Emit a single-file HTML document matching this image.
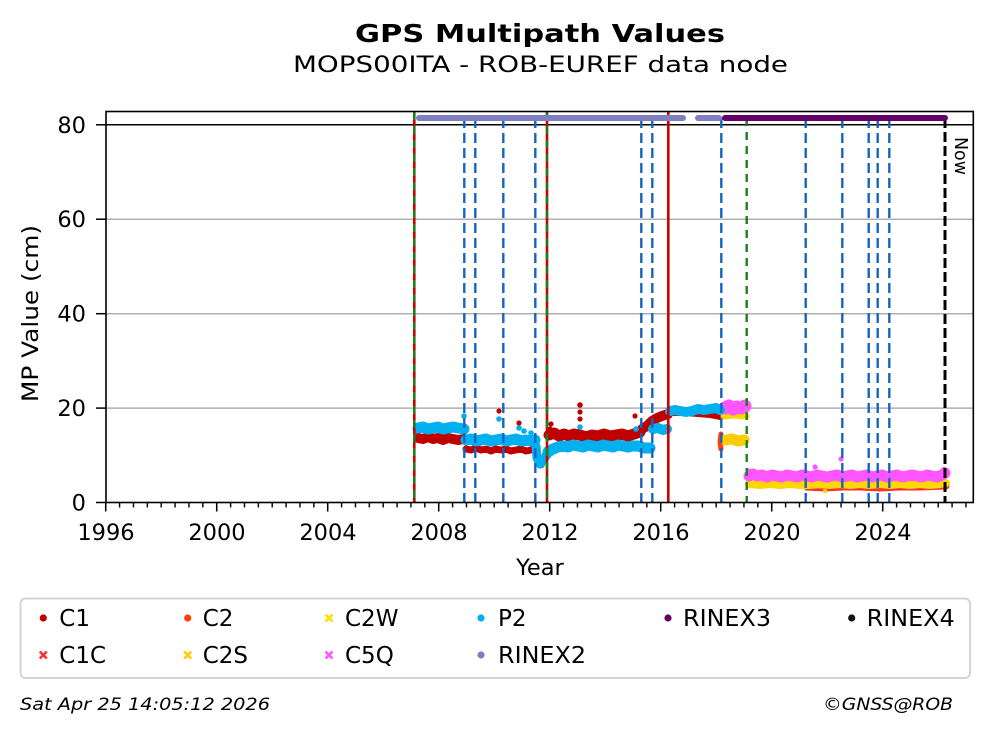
<!DOCTYPE html>
<html>
<head>
<meta charset="utf-8">
<style>
html,body{margin:0;padding:0;background:#fff;}
svg{display:block;}
text{font-family:"DejaVu Sans","Liberation Sans",sans-serif;fill:#000;}
</style>
</head>
<body>
<svg width="992" height="734" viewBox="0 0 992 734" xmlns="http://www.w3.org/2000/svg">
<defs>
<pattern id="mt" x="105" y="0" width="13.875" height="734" patternUnits="userSpaceOnUse">
<rect x="0" y="0" width="1.4" height="734" fill="#000"/>
</pattern>
<clipPath id="ax"><rect x="106" y="111" width="867" height="392"/></clipPath>
</defs>

<!-- Titles -->
<text x="540" y="42" text-anchor="middle" font-size="24.5" font-weight="bold" textLength="370" lengthAdjust="spacingAndGlyphs">GPS Multipath Values</text>
<text x="540.5" y="72" text-anchor="middle" font-size="22.5" textLength="495" lengthAdjust="spacingAndGlyphs">MOPS00ITA - ROB-EUREF data node</text>

<!-- grid lines -->
<g stroke="#b0b0b0" stroke-width="1.5">
<line x1="106" y1="408.1" x2="973" y2="408.1"/>
<line x1="106" y1="313.7" x2="973" y2="313.7"/>
<line x1="106" y1="219.2" x2="973" y2="219.2"/>
</g>
<line x1="106" y1="124.8" x2="973" y2="124.8" stroke="#000" stroke-width="1.5"/>

<g clip-path="url(#ax)" fill="none" stroke-linejoin="round" stroke-linecap="round">
<!-- C1 -->
<g stroke="#c00000">
<polyline stroke-width="10" points="418,438 423,439 428,437 433,439 438,438 443,440 448,438 453,439 458,440 464,439"/>
<polyline stroke-width="7" points="466,449 471,450 476,448 481,450 486,449 491,451 496,449 501,450 506,449 511,451 516,450 521,449 526,451 531,450 535,449"/>
<polyline stroke-width="7" points="536,452 538,461 541,465 544,459 547,450"/>
<polyline stroke-width="11" points="549,435 554,433 559,436 564,434 569,436 574,434 580,435 586,437 592,435 598,436 604,434 610,436 616,435 622,434 628,436 634,434 640,432"/>
<polyline stroke-width="10" points="642,429 647,426 652,421 657,418 662,416 668,414"/>
<polyline stroke-width="8" points="669,412 686,412 698,413 710,414 720,416"/>
</g>
<g fill="#c00000" stroke="none">
<circle cx="499" cy="411" r="2.6"/><circle cx="519" cy="423" r="2.6"/>
<circle cx="551" cy="424" r="2.6"/><circle cx="550" cy="429" r="2.6"/>
<circle cx="580" cy="405" r="2.8"/><circle cx="580" cy="412" r="2.6"/><circle cx="580" cy="419" r="2.6"/>
<circle cx="635" cy="416" r="2.6"/>
</g>
<!-- C1C -->
<polyline stroke="#ff3030" stroke-width="3" points="806,489 825,490 843,489"/>
<polyline stroke="#ff3030" stroke-width="7" points="843,487 860,487 880,488 900,487 920,487 946,486"/>
<!-- C2 -->
<polyline stroke="#ff4000" stroke-width="5" points="721,434 720,442 721,449"/>
<!-- C2S -->
<polyline stroke="#ffcc00" stroke-width="11" points="726,440 732,439 738,441 744,440"/>
<!-- C2W -->
<polyline stroke="#ffd700" stroke-width="7" points="724,416 735,415 746,416"/>
<polyline stroke="#ffd700" stroke-width="8" points="749,484 760,485 770,484 780,485 790,484 800,485 810,485 820,484 830,485 840,484 850,485 860,484 870,485 880,484 890,485 900,484 910,485 920,484 930,485 940,484 946,483"/>
<circle cx="825" cy="491" r="2.2" fill="#ffd700" stroke="none"/>
<!-- C5Q -->
<polyline stroke="#ff55ff" stroke-width="13" points="725,408 729,406 733,409 737,407 741,408 745,406"/>
<polyline stroke="#ff55ff" stroke-width="11" points="749,476 753,474 757,476 762,475 767,477 772,475 777,476 782,477 787,475 792,476 797,477 802,475 807,476 812,477 817,475 822,476 827,477 832,476 837,475 842,477 847,476 852,475 857,477 862,476 867,475 872,477 877,476 882,475 887,477 892,476 897,475 902,477 907,476 912,475 917,476 922,477 927,475 932,476 937,477 942,475 945,473"/>
<g fill="#ff55ff" stroke="none">
<circle cx="815" cy="467" r="2.6"/><circle cx="841" cy="459" r="2.6"/><circle cx="944" cy="470" r="3.2"/><circle cx="749" cy="471" r="2.6"/>
</g>
<!-- P2 -->
<g stroke="#00b0f0">
<polyline stroke-width="11" points="418,428 423,427 428,429 433,428 438,427 443,429 448,428 453,427 458,428 464,429"/>
<polyline stroke-width="11" points="466,440 471,439 476,441 481,440 486,439 491,441 496,440 501,439 506,441 511,440 516,439 521,441 526,440 531,441 535,440"/>
<polyline stroke-width="9" points="536,446 537,458 540,464 543,460 547,455"/>
<polyline stroke-width="11" points="548,452 553,449 558,447 563,446 568,447 573,445 578,446 583,447 588,445 593,446 598,447 603,445 608,446 613,447 618,445 623,446 628,447 633,446 638,446 644,448 650,448"/>
<polyline stroke-width="10" points="653,429 658,428 663,430 667,429"/>
<polyline stroke-width="10" points="670,411 675,410 680,411 686,412 692,411 698,409 704,410 710,409 716,408 720,410"/>
</g>
<g fill="#00b0f0" stroke="none">
<circle cx="464" cy="416" r="2.8"/><circle cx="499" cy="419" r="2.8"/><circle cx="519" cy="428" r="2.8"/>
<circle cx="524" cy="431" r="2.8"/><circle cx="531" cy="433" r="2.8"/><circle cx="580" cy="427" r="2.8"/>
<circle cx="636" cy="429" r="2.8"/>
</g>
</g>

<!-- vertical event lines -->
<g stroke="#1565c0" stroke-width="2.4" stroke-dasharray="10 5">
<line x1="464.3" y1="118" x2="464.3" y2="502"/>
<line x1="475.3" y1="118" x2="475.3" y2="502"/>
<line x1="503.3" y1="118" x2="503.3" y2="502"/>
<line x1="535.3" y1="118" x2="535.3" y2="502"/>
<line x1="641.3" y1="118" x2="641.3" y2="502"/>
<line x1="652.3" y1="118" x2="652.3" y2="502"/>
<line x1="721.3" y1="118" x2="721.3" y2="502"/>
<line x1="805.7" y1="118" x2="805.7" y2="502"/>
<line x1="842.3" y1="118" x2="842.3" y2="502"/>
<line x1="868.7" y1="118" x2="868.7" y2="502"/>
<line x1="877.7" y1="118" x2="877.7" y2="502"/>
<line x1="889.3" y1="118" x2="889.3" y2="502"/>
</g>
<g stroke="#cc0000" stroke-width="2.6">
<line x1="414.3" y1="112" x2="414.3" y2="502"/>
<line x1="547" y1="112" x2="547" y2="502"/>
<line x1="668.3" y1="112" x2="668.3" y2="502"/>
</g>
<g stroke="#1a801a" stroke-width="2.4" stroke-dasharray="8 6">
<line x1="414.3" y1="112" x2="414.3" y2="502"/>
<line x1="547" y1="112" x2="547" y2="502"/>
<line x1="746.7" y1="118" x2="746.7" y2="502"/>
</g>
<line x1="945" y1="118" x2="945" y2="502" stroke="#000" stroke-width="3" stroke-dasharray="10 4"/>

<!-- RINEX bars -->
<g stroke-width="6" stroke-linecap="round">
<line x1="419" y1="118" x2="683" y2="118" stroke="#7f7fbf"/>
<line x1="698" y1="118" x2="719" y2="118" stroke="#7f7fbf"/>
<line x1="725" y1="118" x2="945" y2="118" stroke="#660066"/>
</g>

<text transform="translate(955,137) rotate(90)" font-size="18" textLength="38" lengthAdjust="spacingAndGlyphs">Now</text>

<!-- axes frame -->
<rect x="106" y="111.5" width="867.3" height="391" fill="none" stroke="#000" stroke-width="1.6"/>

<!-- y ticks -->
<g stroke="#000" stroke-width="1.5">
<line x1="96" y1="502.5" x2="106" y2="502.5"/>
<line x1="96" y1="408.1" x2="106" y2="408.1"/>
<line x1="96" y1="313.7" x2="106" y2="313.7"/>
<line x1="96" y1="219.2" x2="106" y2="219.2"/>
<line x1="96" y1="124.8" x2="106" y2="124.8"/>
</g>
<g font-size="22.5" text-anchor="end">
<text x="86" y="510.5">0</text>
<text x="86" y="416.1">20</text>
<text x="86" y="321.7">40</text>
<text x="86" y="227.2">60</text>
<text x="86" y="132.8">80</text>
</g>

<!-- x ticks -->
<rect x="104" y="502.5" width="864" height="5" fill="url(#mt)"/>
<g stroke="#000" stroke-width="1.5">
<line x1="105.7" y1="502.5" x2="105.7" y2="511.5"/>
<line x1="216.7" y1="502.5" x2="216.7" y2="511.5"/>
<line x1="327.7" y1="502.5" x2="327.7" y2="511.5"/>
<line x1="438.7" y1="502.5" x2="438.7" y2="511.5"/>
<line x1="549.7" y1="502.5" x2="549.7" y2="511.5"/>
<line x1="660.7" y1="502.5" x2="660.7" y2="511.5"/>
<line x1="771.7" y1="502.5" x2="771.7" y2="511.5"/>
<line x1="882.7" y1="502.5" x2="882.7" y2="511.5"/>
</g>
<g font-size="22.5" text-anchor="middle">
<text x="106" y="540">1996</text>
<text x="217" y="540">2000</text>
<text x="328" y="540">2004</text>
<text x="439" y="540">2008</text>
<text x="550" y="540">2012</text>
<text x="661" y="540">2016</text>
<text x="772" y="540">2020</text>
<text x="883" y="540">2024</text>
</g>

<text x="540" y="575" font-size="22.5" text-anchor="middle">Year</text>
<text transform="translate(38,313.5) rotate(-90)" font-size="22.5" text-anchor="middle" textLength="177" lengthAdjust="spacingAndGlyphs">MP Value (cm)</text>

<!-- legend -->
<rect x="20.5" y="598.5" width="949.5" height="79.5" rx="5" fill="#fff" stroke="#d4d4d4" stroke-width="2"/>
<circle cx="43.3" cy="618" r="3.6" fill="#c00000"/>
<circle cx="187.7" cy="618" r="3.6" fill="#ff4000"/>
<g stroke="#ffe000" stroke-width="2.6"><line x1="325.5" y1="614.5" x2="332.5" y2="621.5"/><line x1="332.5" y1="614.5" x2="325.5" y2="621.5"/></g>
<circle cx="481" cy="618" r="3.6" fill="#00b0f0"/>
<circle cx="668" cy="618" r="3.6" fill="#660066"/>
<circle cx="851.7" cy="618" r="3.6" fill="#1a0a1a"/>
<g stroke="#ff3030" stroke-width="2.6"><line x1="39.8" y1="651.5" x2="46.8" y2="658.5"/><line x1="46.8" y1="651.5" x2="39.8" y2="658.5"/></g>
<g stroke="#ffcc00" stroke-width="2.6"><line x1="184.2" y1="651.5" x2="191.2" y2="658.5"/><line x1="191.2" y1="651.5" x2="184.2" y2="658.5"/></g>
<g stroke="#ff55ff" stroke-width="2.6"><line x1="325.5" y1="651.5" x2="332.5" y2="658.5"/><line x1="332.5" y1="651.5" x2="325.5" y2="658.5"/></g>
<circle cx="481" cy="655" r="3.6" fill="#7f7fbf"/>
<g font-size="23">
<text x="59.3" y="626">C1</text>
<text x="202.7" y="626">C2</text>
<text x="345" y="626">C2W</text>
<text x="498" y="626">P2</text>
<text x="683" y="626" textLength="88" lengthAdjust="spacingAndGlyphs">RINEX3</text>
<text x="866.7" y="626" textLength="88" lengthAdjust="spacingAndGlyphs">RINEX4</text>
<text x="59.3" y="663">C1C</text>
<text x="202.7" y="663">C2S</text>
<text x="345" y="663">C5Q</text>
<text x="498" y="663" textLength="88" lengthAdjust="spacingAndGlyphs">RINEX2</text>
</g>

<!-- footer -->
<text x="20" y="710" font-size="17" font-style="italic" textLength="250" lengthAdjust="spacingAndGlyphs">Sat Apr 25 14:05:12 2026</text>
<text x="953" y="710" font-size="17" font-style="italic" text-anchor="end" textLength="130" lengthAdjust="spacingAndGlyphs">©GNSS@ROB</text>
</svg>
</body>
</html>
